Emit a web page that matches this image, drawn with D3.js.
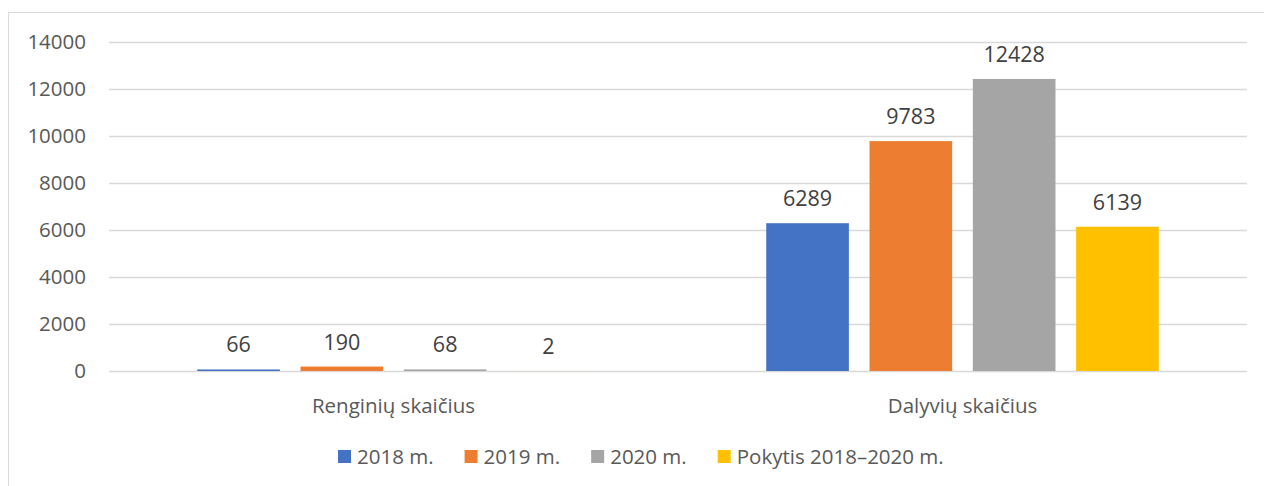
<!DOCTYPE html>
<html>
<head>
<meta charset="utf-8">
<script src="https://cdn.jsdelivr.net/npm/d3@7"></script>
<style>
  body { margin: 0; background: #fff; }
  svg { display: block; font-family: "Open Sans", "Noto Sans", sans-serif; }
</style>
</head>
<body>
<svg class="chart" width="1264" height="486"></svg>
<script>
const categories = ["Renginių skaičius", "Dalyvių skaičius"];
const seriesNames = ["2018 m.", "2019 m.", "2020 m.", "Pokytis 2018–2020 m."];
const seriesColors = ["#4472C4", "#ED7D31", "#A5A5A5", "#FFC000"];
const values2018 = [66, 6289];
const values2019 = [190, 9783];
const values2020 = [68, 12428];
const valuesChange = [2, 6139];
const yTicks = [0, 2000, 4000, 6000, 8000, 10000, 12000, 14000];

const seriesValues = [values2018, values2019, values2020, valuesChange];

const PLOT_LEFT = 109;
const PLOT_RIGHT = 1247;
const PLOT_TOP = 42;
const PLOT_BOTTOM = 371;
const FONT_SIZE = "20.5px";

const svg = d3.select("svg.chart");

// outer chart border (only left/top visible in the crop)
svg.append("rect")
    .attr("x", 8.5).attr("y", 12.5)
    .attr("width", 1400).attr("height", 600)
    .attr("fill", "none")
    .attr("stroke", "#d9d9d9");

const y = d3.scaleLinear().domain([0, 14000]).range([PLOT_BOTTOM, PLOT_TOP]);

const x0 = d3.scaleBand().domain(categories).range([PLOT_LEFT, PLOT_RIGHT]);
const x1 = d3.scaleBand().domain(seriesNames)
    .range([0, x0.bandwidth()])
    .paddingInner(0.2)
    .paddingOuter(0.854);

// gridlines
svg.append("g").selectAll("line")
    .data(yTicks)
    .enter().append("line")
    .attr("x1", PLOT_LEFT).attr("x2", PLOT_RIGHT)
    .attr("y1", d => Math.round(y(d)) + 0.5)
    .attr("y2", d => Math.round(y(d)) + 0.5)
    .attr("stroke", "#d9d9d9")
    .attr("stroke-width", 1.3);

// y tick labels
svg.append("g").selectAll("text")
    .data(yTicks)
    .enter().append("text")
    .attr("x", 86)
    .attr("y", d => y(d))
    .attr("dy", "0.35em")
    .attr("text-anchor", "end")
    .attr("fill", "#595959")
    .style("font-size", FONT_SIZE)
    .text(d => d);

const rows = categories.map((c, i) => ({
    category: c,
    items: seriesNames.map((s, j) => ({ series: s, color: seriesColors[j], value: seriesValues[j][i] }))
}));

const groups = svg.append("g").selectAll("g")
    .data(rows)
    .enter().append("g")
    .attr("transform", d => `translate(${x0(d.category)},0)`);

groups.selectAll("rect")
    .data(d => d.items)
    .enter().append("rect")
    .attr("x", d => x1(d.series))
    .attr("y", d => y(d.value))
    .attr("width", x1.bandwidth())
    .attr("height", d => y(0) - y(d.value))
    .attr("fill", d => d.color);

groups.selectAll("text.value")
    .data(d => d.items)
    .enter().append("text")
    .attr("class", "value")
    .attr("x", d => x1(d.series) + x1.bandwidth() / 2)
    .attr("y", d => y(d.value) - 17)
    .attr("text-anchor", "middle")
    .attr("fill", "#404040")
    .style("font-size", "21.5px")
    .text(d => d.value);

// category labels
svg.append("g").selectAll("text")
    .data(categories)
    .enter().append("text")
    .attr("x", d => x0(d) + x0.bandwidth() / 2)
    .attr("y", 406)
    .attr("dy", "0.35em")
    .attr("text-anchor", "middle")
    .attr("fill", "#595959")
    .style("font-size", FONT_SIZE)
    .text(d => d);

// legend
const legend = svg.append("g");
let legendX = 338;
seriesNames.forEach((name, i) => {
    legend.append("rect")
        .attr("x", legendX).attr("y", 450)
        .attr("width", 13).attr("height", 13)
        .attr("fill", seriesColors[i]);
    const label = legend.append("text")
        .attr("x", legendX + 19)
        .attr("y", 456.5)
        .attr("dy", "0.35em")
        .attr("fill", "#595959")
        .style("font-size", FONT_SIZE)
        .text(name);
    legendX += 19 + label.node().getComputedTextLength() + 31;
});
</script>
</body>
</html>
